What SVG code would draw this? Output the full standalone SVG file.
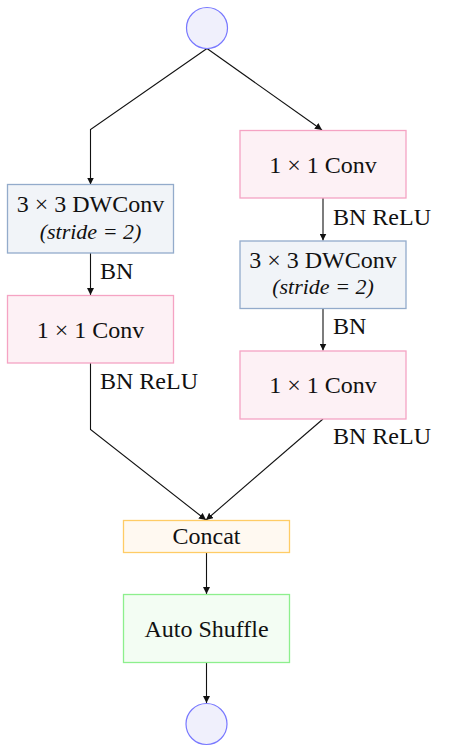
<svg xmlns="http://www.w3.org/2000/svg" width="457" height="752" viewBox="0 0 457 752">
<style>
text{font-family:"Liberation Serif","Times New Roman",serif;font-size:24px;fill:#111}
.it{font-style:italic;font-size:22px}
.c{text-anchor:middle}
.circ{fill:#f0f0fc;stroke:#7878ff;stroke-width:1.2}
.pink{fill:#fdf1f5;stroke:#f5a3c3;stroke-width:1.3}
.blue{fill:#f1f4f8;stroke:#93abcb;stroke-width:1.3}
.org{fill:#fff9f1;stroke:#ffcc66;stroke-width:1.3}
.grn{fill:#f3fdf3;stroke:#8def8d;stroke-width:1.3}
.e{fill:none;stroke:#111;stroke-width:1.1;marker-end:url(#a)}
</style>
<defs>
<marker id="a" viewBox="0 0 10 10" refX="10" refY="5" markerWidth="7" markerHeight="7" markerUnits="userSpaceOnUse" orient="auto">
<path d="M0,0 L10,5 L0,10 Z" fill="#111"/>
</marker>
</defs>
<g id="connectors">
<path class="e" d="M207,48.5 L90.5,129.5 L90.5,184.5"/>
<path class="e" d="M207,48.5 L322,130"/>
<path class="e" d="M90.5,253 L90.5,295"/>
<path class="e" d="M323,198 L323,240.5"/>
<path class="e" d="M323,308.5 L323,350.5"/>
<path class="e" d="M90.5,363 L90.5,429.5 L206,520"/>
<path class="e" d="M323,419 L206,520"/>
<path class="e" d="M206.5,553 L206.5,594"/>
<path class="e" d="M206.5,662.5 L206.5,703"/>
<text x="100" y="279">BN</text>
<text x="100" y="388.5">BN ReLU</text>
<text x="333" y="224.5">BN ReLU</text>
<text x="333" y="334">BN</text>
<text x="333" y="443.5">BN ReLU</text>
</g>
<g id="input"><circle class="circ" cx="207" cy="28" r="20.5"/></g>
<g id="left_dwconv">
<rect class="blue" x="7.5" y="184.5" width="166" height="68.5"/>
<text class="c" x="90.5" y="211.5">3 × 3 DWConv</text>
<text class="c it" x="90.5" y="238.5">(stride = 2)</text>
</g>
<g id="left_conv">
<rect class="pink" x="7.5" y="295.5" width="166" height="67.5"/>
<text class="c" x="90.5" y="337.5">1 × 1 Conv</text>
</g>
<g id="right_conv1">
<rect class="pink" x="240" y="130.5" width="166" height="67.5"/>
<text class="c" x="323" y="172.5">1 × 1 Conv</text>
</g>
<g id="right_dwconv">
<rect class="blue" x="240" y="241" width="166" height="67.5"/>
<text class="c" x="323" y="267.5">3 × 3 DWConv</text>
<text class="c it" x="323" y="294">(stride = 2)</text>
</g>
<g id="right_conv2">
<rect class="pink" x="240" y="351" width="166" height="68"/>
<text class="c" x="323" y="393">1 × 1 Conv</text>
</g>
<g id="concat">
<rect class="org" x="123.5" y="520.5" width="166" height="32"/>
<text class="c" x="206.5" y="544">Concat</text>
</g>
<g id="auto_shuffle">
<rect class="grn" x="123.5" y="594.5" width="166" height="68"/>
<text class="c" x="206.5" y="636.5">Auto Shuffle</text>
</g>
<g id="output"><circle class="circ" cx="206.5" cy="724" r="20.5"/></g>
</svg>
